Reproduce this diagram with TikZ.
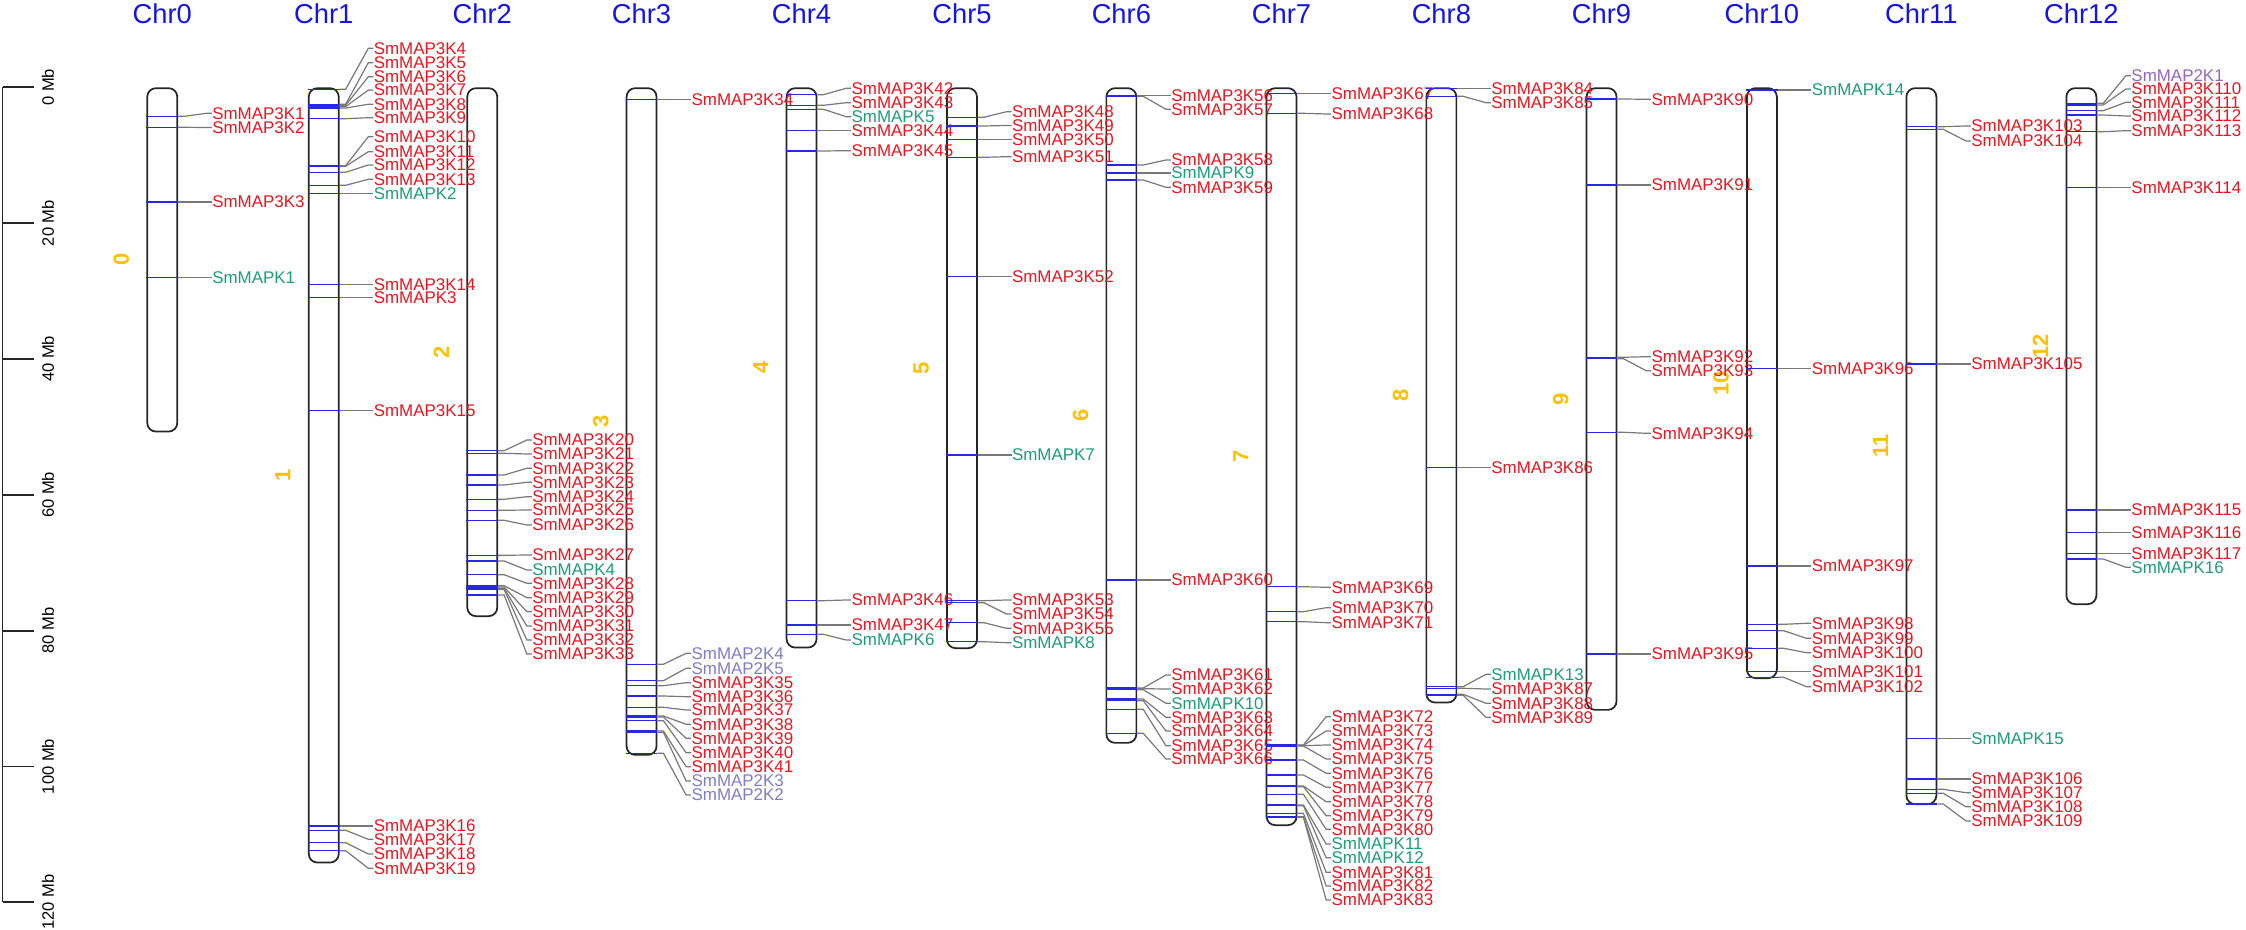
\documentclass[tikz,border=0pt]{standalone}
\usepackage{fontspec}
\setmainfont{Liberation Sans}
\usetikzlibrary{calc}

\definecolor{mapred}{RGB}{235,20,30}
\definecolor{mapgreen}{RGB}{27,158,119}
\definecolor{maplav}{RGB}{125,125,200}
\definecolor{mappurple}{RGB}{150,100,190}
\definecolor{chrgold}{RGB}{255,192,0}
\definecolor{titleblue}{RGB}{20,20,230}
\definecolor{locusblue}{RGB}{40,40,225}
\definecolor{leadgray}{RGB}{120,120,120}

\tikzset{every picture/.style={line width=0.75pt}}
\tikzset{
  chrbox/.style={draw=black!85, line width=1.3pt, rounded corners=6.5pt, minimum width=22.5pt, inner sep=0pt, anchor=north west},
  chrtitle/.style={text=titleblue, inner sep=0pt, font=\fontsize{20.5}{20.5}\selectfont},
  chrnum/.style={text=chrgold, inner sep=0pt, rotate=90, font=\bfseries\fontsize{16.5}{16.5}\selectfont},
  mbtext/.style={inner sep=0pt, rotate=90, font=\fontsize{12.4}{12.4}\selectfont},
  scaleline/.style={draw=black!85, line width=1.3pt},
  locus/.style={draw=locusblue, line width=0.8pt},
  leader/.style={draw=leadgray, line width=0.9pt},
  genelabel/.style={anchor=west, inner sep=0pt, font=\fontsize{12.7}{12.7}\selectfont},
  k3/.style={text=mapred},
  mk/.style={text=mapgreen},
  k2/.style={text=maplav},
  k2p/.style={text=mappurple}
}

% chromosome: number, left x, bottom y
\newcommand{\chrom}[3]{%
  \node[chrbox, minimum height={(#3-87.3)*0.75pt}] (chr#1) at (#2,87.3) {};
  \node[chrtitle] (t#1) at (chr#1.north |- 0,13.3) {Chr#1};
  \node[chrnum] (n#1) at ($(chr#1.west)+(-25,0)$) {#1};
}
% gene: chromosome, locus y, label y, style, name
\newcommand{\gene}[5]{%
  \draw[locus] (chr#1.west |- 0,#2) -- (chr#1.east |- 0,#2) coordinate (m#5);
  \node[genelabel,#4] (g#5) at ($(chr#1.east |- 0,#3)+(33.7,0)$) {#5};
  \draw[leader] (m#5) -- ++(6,0) -- ($(g#5.west)+(-5,0)$) -- (g#5.west);
}

\begin{document}
\begin{tikzpicture}[x=0.75pt,y=0.75pt,yscale=-1,xscale=1]
\useasboundingbox (0,0) rectangle (2246,930);

% scale bar
\draw[scaleline] (2.5,87.3) -- (2.5,902.3);
\foreach \mb in {0,20,...,120}{
  \pgfmathsetmacro\ty{87.3+6.792*\mb}
  \draw[scaleline] (2.5,\ty) -- (34,\ty) coordinate (tick\mb);
  \node[mbtext] (mb\mb) at (48,\ty) {\mb\ Mb};
}

% chromosomes
\chrom{0}{146.4}{430.7}
\chrom{1}{307.9}{861.7}
\chrom{2}{466.4}{615.3}
\chrom{3}{625.7}{754}
\chrom{4}{785.7}{646.7}
\chrom{5}{946.1}{647.3}
\chrom{6}{1105.5}{742}
\chrom{7}{1265.7}{824.3}
\chrom{8}{1425.5}{701.7}
\chrom{9}{1585.7}{709}
\chrom{10}{1746}{677.3}
\chrom{11}{1905.5}{803.3}
\chrom{12}{2065.5}{603.3}

% Chr0
\gene{0}{116.3}{113.3}{k3}{SmMAP3K1}
\gene{0}{127.3}{127.5}{k3}{SmMAP3K2}
\gene{0}{202}{202}{k3}{SmMAP3K3}
\gene{0}{277.7}{277.7}{mk}{SmMAPK1}
% Chr1
\gene{1}{89.3}{48.3}{k3}{SmMAP3K4}
\gene{1}{104.3}{62.7}{k3}{SmMAP3K5}
\gene{1}{105.3}{76.7}{k3}{SmMAP3K6}
\gene{1}{106.7}{90}{k3}{SmMAP3K7}
\gene{1}{108}{104.3}{k3}{SmMAP3K8}
\gene{1}{118.7}{117.7}{k3}{SmMAP3K9}
\gene{1}{165.7}{136.7}{k3}{SmMAP3K10}
\gene{1}{166.3}{151.7}{k3}{SmMAP3K11}
\gene{1}{172.3}{165}{k3}{SmMAP3K12}
\gene{1}{185.3}{179.3}{k3}{SmMAP3K13}
\gene{1}{193.3}{193.3}{mk}{SmMAPK2}
\gene{1}{284.3}{284.3}{k3}{SmMAP3K14}
\gene{1}{297.7}{297.7}{k3}{SmMAPK3}
\gene{1}{410.7}{410.7}{k3}{SmMAP3K15}
\gene{1}{826}{826}{k3}{SmMAP3K16}
\gene{1}{830.3}{839.3}{k3}{SmMAP3K17}
\gene{1}{842.7}{854}{k3}{SmMAP3K18}
\gene{1}{850.7}{868.3}{k3}{SmMAP3K19}
% Chr2
\gene{2}{450.7}{440}{k3}{SmMAP3K20}
\gene{2}{453.3}{454}{k3}{SmMAP3K21}
\gene{2}{475}{468.3}{k3}{SmMAP3K22}
\gene{2}{485}{482.3}{k3}{SmMAP3K23}
\gene{2}{499.3}{496.7}{k3}{SmMAP3K24}
\gene{2}{510.3}{510}{k3}{SmMAP3K25}
\gene{2}{520.3}{525}{k3}{SmMAP3K26}
\gene{2}{555.3}{555}{k3}{SmMAP3K27}
\gene{2}{561}{570}{mk}{SmMAPK4}
\gene{2}{574.7}{583.3}{k3}{SmMAP3K28}
\gene{2}{585.7}{597.7}{k3}{SmMAP3K29}
\gene{2}{587}{611.7}{k3}{SmMAP3K30}
\gene{2}{588.3}{626}{k3}{SmMAP3K31}
\gene{2}{589.5}{640}{k3}{SmMAP3K32}
\gene{2}{595}{654}{k3}{SmMAP3K33}
% Chr3
\gene{3}{99.3}{99.3}{k3}{SmMAP3K34}
\gene{3}{664.3}{653.3}{k2}{SmMAP2K4}
\gene{3}{680.7}{668.3}{k2}{SmMAP2K5}
\gene{3}{685.7}{682.7}{k3}{SmMAP3K35}
\gene{3}{696}{696.7}{k3}{SmMAP3K36}
\gene{3}{707.3}{710}{k3}{SmMAP3K37}
\gene{3}{716}{724.3}{k3}{SmMAP3K38}
\gene{3}{717}{738.3}{k3}{SmMAP3K39}
\gene{3}{720.7}{752.7}{k3}{SmMAP3K40}
\gene{3}{731}{766.7}{k3}{SmMAP3K41}
\gene{3}{732.3}{781}{k2}{SmMAP2K3}
\gene{3}{753.3}{795}{k2}{SmMAP2K2}
% Chr4
\gene{4}{94.7}{88.3}{k3}{SmMAP3K42}
\gene{4}{105.3}{102.7}{k3}{SmMAP3K43}
\gene{4}{109.3}{116.7}{mk}{SmMAPK5}
\gene{4}{130.7}{130.7}{k3}{SmMAP3K44}
\gene{4}{151}{150.7}{k3}{SmMAP3K45}
\gene{4}{600.7}{600}{k3}{SmMAP3K46}
\gene{4}{625}{625}{k3}{SmMAP3K47}
\gene{4}{634.3}{640}{mk}{SmMAPK6}
% Chr5
\gene{5}{117.3}{111.7}{k3}{SmMAP3K48}
\gene{5}{126}{125.5}{k3}{SmMAP3K49}
\gene{5}{139.3}{139.3}{k3}{SmMAP3K50}
\gene{5}{157.3}{156.7}{k3}{SmMAP3K51}
\gene{5}{276.3}{276.3}{k3}{SmMAP3K52}
\gene{5}{455}{455}{mk}{SmMAPK7}
\gene{5}{600.7}{600}{k3}{SmMAP3K53}
\gene{5}{602.7}{614}{k3}{SmMAP3K54}
\gene{5}{622.7}{628.3}{k3}{SmMAP3K55}
\gene{5}{641.7}{642.7}{mk}{SmMAPK8}
% Chr6
\gene{6}{95.7}{95.7}{k3}{SmMAP3K56}
\gene{6}{96.3}{109.3}{k3}{SmMAP3K57}
\gene{6}{165}{160}{k3}{SmMAP3K58}
\gene{6}{173}{173}{mk}{SmMAPK9}
\gene{6}{180}{187.3}{k3}{SmMAP3K59}
\gene{6}{580}{580}{k3}{SmMAP3K60}
\gene{6}{688}{675}{k3}{SmMAP3K61}
\gene{6}{688.7}{689}{k3}{SmMAP3K62}
\gene{6}{689.7}{703.3}{mk}{SmMAPK10}
\gene{6}{699}{717.3}{k3}{SmMAP3K63}
\gene{6}{700.7}{731}{k3}{SmMAP3K64}
\gene{6}{709.3}{745.7}{k3}{SmMAP3K65}
\gene{6}{733.3}{759}{k3}{SmMAP3K66}
% Chr7
\gene{7}{93.3}{93.3}{k3}{SmMAP3K67}
\gene{7}{113.3}{114}{k3}{SmMAP3K68}
\gene{7}{586.7}{587.3}{k3}{SmMAP3K69}
\gene{7}{611.7}{607.7}{k3}{SmMAP3K70}
\gene{7}{621.7}{622.7}{k3}{SmMAP3K71}
\gene{7}{745}{716.7}{k3}{SmMAP3K72}
\gene{7}{745.3}{731}{k3}{SmMAP3K73}
\gene{7}{745.7}{745}{k3}{SmMAP3K74}
\gene{7}{746}{759}{k3}{SmMAP3K75}
\gene{7}{760}{773.3}{k3}{SmMAP3K76}
\gene{7}{775}{787.3}{k3}{SmMAP3K77}
\gene{7}{786}{801.7}{k3}{SmMAP3K78}
\gene{7}{786.7}{815.7}{k3}{SmMAP3K79}
\gene{7}{794.3}{829.3}{k3}{SmMAP3K80}
\gene{7}{805}{844}{mk}{SmMAPK11}
\gene{7}{805.7}{857.7}{mk}{SmMAPK12}
\gene{7}{813.3}{872.3}{k3}{SmMAP3K81}
\gene{7}{816.7}{886}{k3}{SmMAP3K82}
\gene{7}{817.3}{900}{k3}{SmMAP3K83}
% Chr8
\gene{8}{88.3}{88.3}{k3}{SmMAP3K84}
\gene{8}{96.3}{102.7}{k3}{SmMAP3K85}
\gene{8}{467.3}{467.3}{k3}{SmMAP3K86}
\gene{8}{686.7}{674.3}{mk}{SmMAPK13}
\gene{8}{688.3}{689}{k3}{SmMAP3K87}
\gene{8}{694.3}{703.3}{k3}{SmMAP3K88}
\gene{8}{695.3}{717.3}{k3}{SmMAP3K89}
% Chr9
\gene{9}{99}{99.3}{k3}{SmMAP3K90}
\gene{9}{185}{185}{k3}{SmMAP3K91}
\gene{9}{357.3}{356.7}{k3}{SmMAP3K92}
\gene{9}{358.7}{370.7}{k3}{SmMAP3K93}
\gene{9}{432.3}{433.3}{k3}{SmMAP3K94}
\gene{9}{654}{654}{k3}{SmMAP3K95}
% Chr10
\gene{10}{90}{90}{mk}{SmMAPK14}
\gene{10}{368.3}{368.3}{k3}{SmMAP3K96}
\gene{10}{566}{566}{k3}{SmMAP3K97}
\gene{10}{624.3}{623.3}{k3}{SmMAP3K98}
\gene{10}{630.7}{638.3}{k3}{SmMAP3K99}
\gene{10}{648.3}{652.7}{k3}{SmMAP3K100}
\gene{10}{671.7}{671.7}{k3}{SmMAP3K101}
\gene{10}{677.3}{686.7}{k3}{SmMAP3K102}
% Chr11
\gene{11}{126.7}{126}{k3}{SmMAP3K103}
\gene{11}{129.3}{141}{k3}{SmMAP3K104}
\gene{11}{364}{364}{k3}{SmMAP3K105}
\gene{11}{738.3}{738.3}{mk}{SmMAPK15}
\gene{11}{779}{779}{k3}{SmMAP3K106}
\gene{11}{789.3}{792.7}{k3}{SmMAP3K107}
\gene{11}{793.3}{806.7}{k3}{SmMAP3K108}
\gene{11}{804}{821}{k3}{SmMAP3K109}
% Chr12
\gene{12}{103.3}{75.7}{k2p}{SmMAP2K1}
\gene{12}{105}{89}{k3}{SmMAP3K110}
\gene{12}{110.7}{102.3}{k3}{SmMAP3K111}
\gene{12}{115}{116}{k3}{SmMAP3K112}
\gene{12}{131.7}{130.7}{k3}{SmMAP3K113}
\gene{12}{187.3}{187.3}{k3}{SmMAP3K114}
\gene{12}{510}{510}{k3}{SmMAP3K115}
\gene{12}{532.7}{532.7}{k3}{SmMAP3K116}
\gene{12}{553.3}{553.3}{k3}{SmMAP3K117}
\gene{12}{559}{567.3}{mk}{SmMAPK16}

\end{tikzpicture}
\end{document}
